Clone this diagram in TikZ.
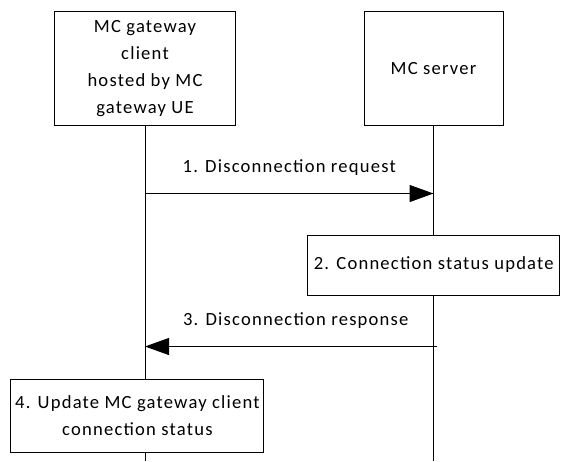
\documentclass[tikz,border=0pt]{standalone}
\usepackage{fontspec}
\setmainfont{Carlito}[LetterSpace=6.5]
\usetikzlibrary{arrows.meta}
\tikzset{
  entity/.style={draw, fill=white, align=center, inner sep=0pt},
  msg/.style={-{Triangle[length=24pt,width=17pt]}}
}
\begin{document}
\begin{tikzpicture}[x=1pt, y=-1pt, line width=1pt, font=\fontsize{18.6}{26.8}\selectfont]
  \useasboundingbox (0,0) rectangle (561,461);
  \node[entity, minimum width=181pt, minimum height=114pt] (gwc) at (145,68.5)
    {MC gateway\\client\\hosted by MC\\gateway UE};
  \node[entity, minimum width=139pt, minimum height=114pt] (srv) at (433.5,68.5) {MC server};
  \coordinate (gwcend) at (145,461);
  \coordinate (srvend) at (433.5,461);
  \draw (gwc.south) -- (gwcend);
  \draw (srv.south) -- (srvend);
  \coordinate (reqa) at (145,193.5);
  \coordinate (reqb) at (433.5,193.5);
  \draw[msg] (reqa) -- node[midway, yshift=26pt] (reqlbl) {1. Disconnection request} (reqb);
  \node[entity, minimum width=252pt, minimum height=60pt] (upd) at (433.8,265)
    {2. Connection status update};
  \coordinate (rspa) at (436.5,346.5);
  \coordinate (rspb) at (145,346.5);
  \draw[msg] (rspa) -- node[midway, xshift=5pt, yshift=26pt] (rsplbl) {3. Disconnection response} (rspb);
  \node[entity, minimum width=253pt, minimum height=72.6pt] (gwcupd) at (137.4,415.7)
    {4. Update MC gateway client\\connection status};
\end{tikzpicture}
\end{document}
